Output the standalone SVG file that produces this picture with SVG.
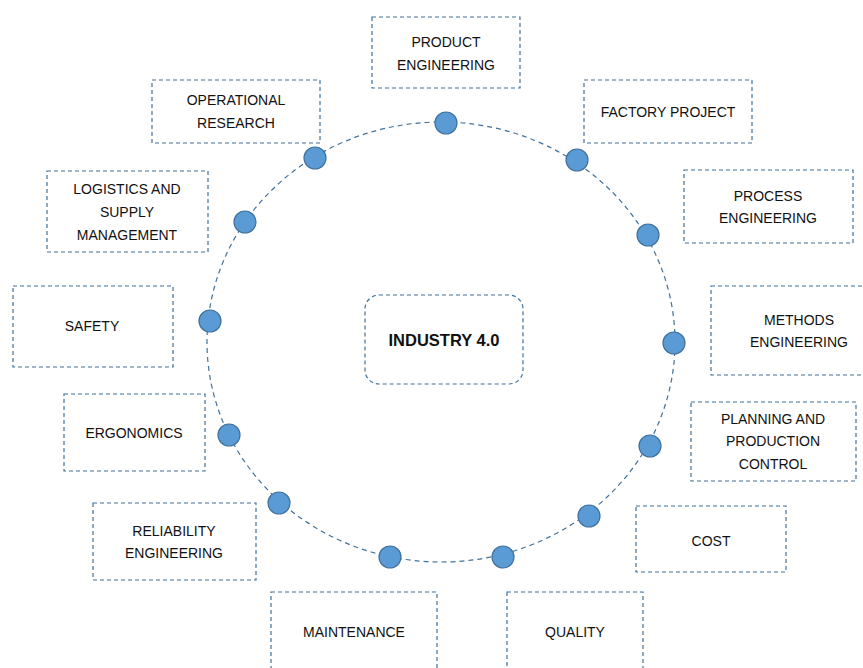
<svg xmlns="http://www.w3.org/2000/svg" width="863" height="668" viewBox="0 0 863 668">
<style>
.box{fill:#fff;stroke:#41719C;stroke-width:1.2;stroke-dasharray:4 3}
.ring{fill:none;stroke:#41719C;stroke-width:1.2;stroke-dasharray:5 4}
.dot{fill:#5B9BD5;stroke:#41719C;stroke-width:1.2}
text{font-family:"Liberation Sans",Arial,sans-serif;font-size:14px;fill:#111;text-anchor:middle}
.b{font-weight:bold;font-size:16.5px}
</style>
<rect width="863" height="668" fill="#fff"/>
<g id="connectors">
<ellipse class="ring" cx="441" cy="342" rx="234" ry="220"/>
<circle class="dot" cx="446" cy="123" r="11"/>
<circle class="dot" cx="577" cy="160" r="11"/>
<circle class="dot" cx="648" cy="235" r="11"/>
<circle class="dot" cx="674" cy="343" r="11"/>
<circle class="dot" cx="650" cy="446" r="11"/>
<circle class="dot" cx="589" cy="516" r="11"/>
<circle class="dot" cx="503" cy="557" r="11"/>
<circle class="dot" cx="390" cy="557" r="11"/>
<circle class="dot" cx="279" cy="503" r="11"/>
<circle class="dot" cx="229" cy="435" r="11"/>
<circle class="dot" cx="210" cy="321" r="11"/>
<circle class="dot" cx="245" cy="222" r="11"/>
<circle class="dot" cx="315" cy="158" r="11"/>
</g>
<g id="center"><rect class="box" x="365" y="295" width="158" height="89" rx="14"/><text class="b" x="444" y="346">INDUSTRY 4.0</text></g>
<g id="product"><rect class="box" x="372" y="17" width="148" height="71"/><text x="446" y="47">PRODUCT</text><text x="446" y="70">ENGINEERING</text></g>
<g id="factory"><rect class="box" x="584" y="80" width="168" height="63"/><text x="668" y="117">FACTORY PROJECT</text></g>
<g id="process"><rect class="box" x="684" y="170" width="169" height="73"/><text x="768" y="201">PROCESS</text><text x="768" y="223">ENGINEERING</text></g>
<g id="methods"><rect class="box" x="711" y="286" width="160" height="89"/><text x="799" y="325">METHODS</text><text x="799" y="347">ENGINEERING</text></g>
<g id="planning"><rect class="box" x="691" y="402" width="165" height="79"/><text x="773" y="424">PLANNING AND</text><text x="773" y="446">PRODUCTION</text><text x="773" y="469">CONTROL</text></g>
<g id="cost"><rect class="box" x="636" y="506" width="150" height="66"/><text x="711" y="546">COST</text></g>
<g id="quality"><rect class="box" x="507" y="592" width="136" height="90"/><text x="575" y="637">QUALITY</text></g>
<g id="maintenance"><rect class="box" x="271" y="592" width="166" height="90"/><text x="354" y="637">MAINTENANCE</text></g>
<g id="reliability"><rect class="box" x="93" y="503" width="163" height="77"/><text x="174" y="536">RELIABILITY</text><text x="174" y="558">ENGINEERING</text></g>
<g id="ergonomics"><rect class="box" x="64" y="394" width="141" height="77"/><text x="134" y="438">ERGONOMICS</text></g>
<g id="safety"><rect class="box" x="13" y="286" width="160" height="81"/><text x="92" y="331">SAFETY</text></g>
<g id="logistics"><rect class="box" x="47" y="171" width="161" height="81"/><text x="127" y="194">LOGISTICS AND</text><text x="127" y="217">SUPPLY</text><text x="127" y="240">MANAGEMENT</text></g>
<g id="operational"><rect class="box" x="152" y="80" width="168" height="63"/><text x="236" y="105">OPERATIONAL</text><text x="236" y="128">RESEARCH</text></g>
</svg>
